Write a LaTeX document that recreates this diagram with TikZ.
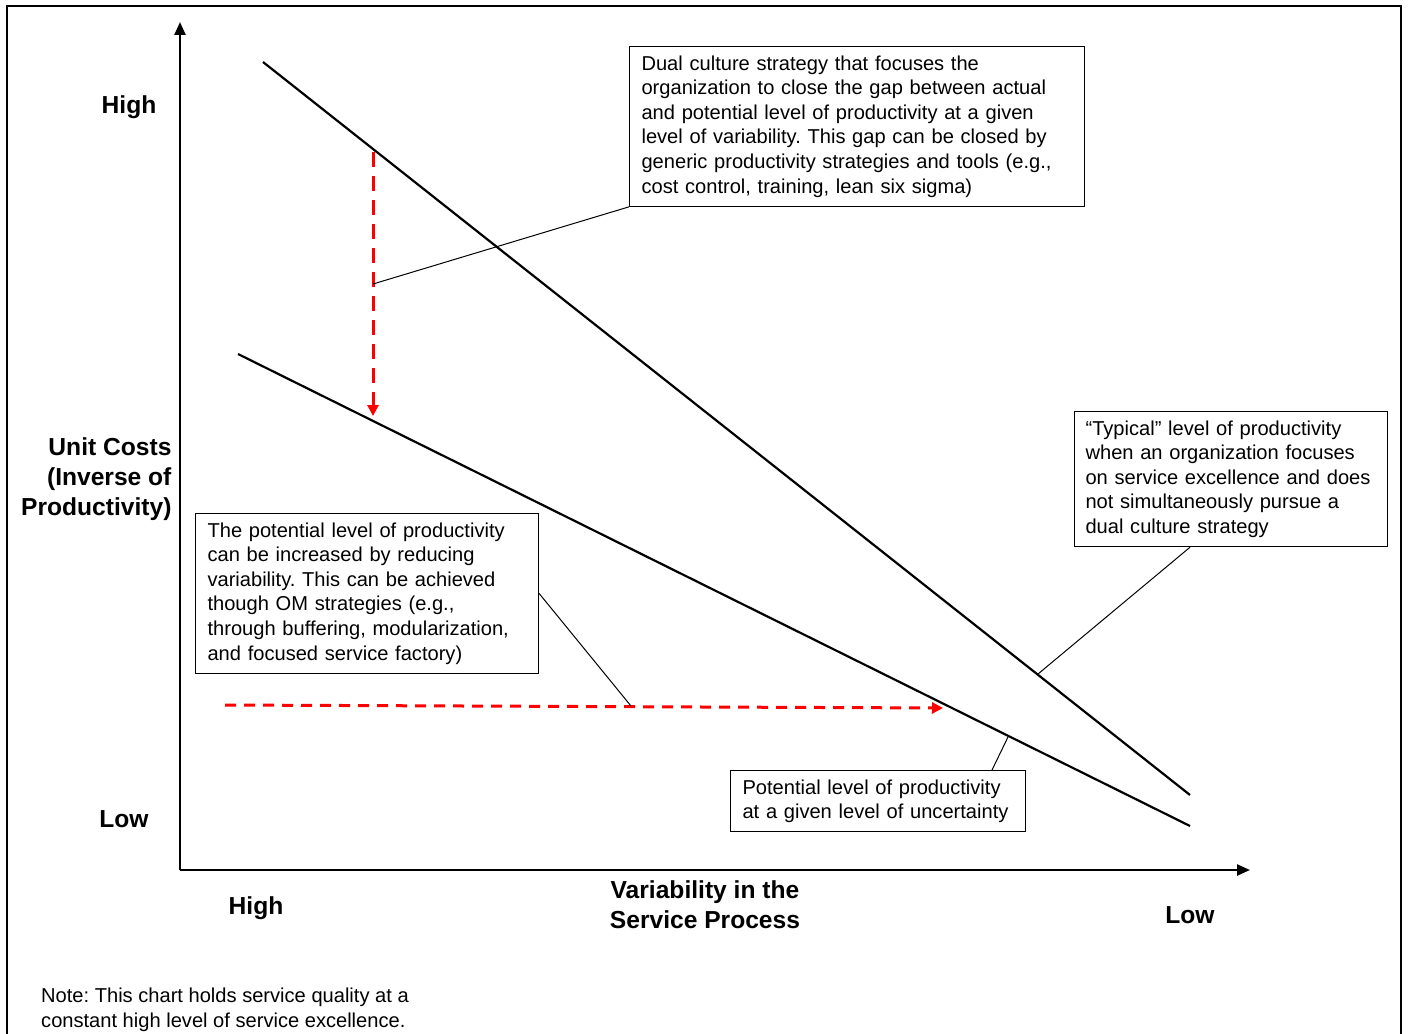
\documentclass[tikz,border=0pt]{standalone}
\usepackage{fontspec}
\setmainfont{Liberation Sans}
\usetikzlibrary{positioning}
\usetikzlibrary{calc}
\usetikzlibrary{arrows.meta}
\frenchspacing
\newcommand{\boxfont}{\fontsize{20.1}{24.6}\selectfont}
\newcommand{\axisfont}{\fontsize{24.6}{30}\selectfont\bfseries}

\begin{document}
\begin{tikzpicture}[x=1pt, y=-1pt,
                        axis/.style={line width=2.4pt, -{Triangle[length=13pt,width=11pt]}},
                        curve/.style={line width=2.2pt},
                        gap/.style={red, line width=3pt, dash pattern=on 13pt off 8pt,
                                    -{Triangle[length=11pt,width=11pt]}},
                        leader/.style={line width=1pt},
                        note/.style={draw, line width=1.1pt, align=left, anchor=north west,
                                     font=\boxfont, inner xsep=12pt, inner ysep=9pt},
                        label/.style={font=\axisfont, align=center}]
        \useasboundingbox (0,0) rectangle (1410,1033);
        \draw[line width=1.6pt] (7,6) rectangle (1401,1060);

        % axes
        \coordinate (o) at (180,870);
        \coordinate (ytop) at (180,22);
        \coordinate (xend) at (1250,870);
        \draw[axis] (o) -- (ytop);
        \draw[axis] (o) -- (xend);

        % productivity lines
        \coordinate (u1) at (263,62);
        \coordinate (u2) at (1190,795);
        \coordinate (l1) at (238,354);
        \coordinate (l2) at (1190,826);
        \draw[curve] (u1) -- (u2);
        \draw[curve] (l1) -- (l2);

        % gaps
        \coordinate (v1) at (373,152);
        \coordinate (v2) at (373,416);
        \coordinate (h1) at (225,705);
        \coordinate (h2) at (943,708);
        \draw[gap, dash pattern=on 15pt off 9pt] (v1) -- (v2);
        \draw[gap, dash pattern=on 11pt off 8pt] (h1) -- (h2);

        % axis labels
        \node[label] (yhigh) at (129,107) {High};
        \node[label] (ylow) at (124,819) {Low};
        \node[label, align=right, anchor=east] (yname) at (175,479) {Unit Costs\\(Inverse of\\Productivity)};
        \node[label] (xhigh) at (256,908) {High};
        \node[label] (xlow) at (1190,915) {Low};
        \node[label] (xname) at (705,905) {Variability in the\\Service Process};

        % boxes
        \node[note, text width=431pt] (dual) at (629,46)
            {Dual culture strategy that focuses the\\
             organization to close the gap between actual\\
             and potential level of productivity at a given\\
             level of variability. This gap can be closed by\\
             generic productivity strategies and tools (e.g.,\\
             cost control, training, lean six sigma)};
        \node[note, text width=291pt, inner xsep=11pt] (typical) at (1074,411)
            {``Typical'' level of productivity\\
             when an organization focuses\\
             on service excellence and does\\
             not simultaneously pursue a\\
             dual culture strategy};
        \node[note, text width=319pt] (reduce) at (195,513)
            {The potential level of productivity\\
             can be increased by reducing\\
             variability. This can be achieved\\
             though OM strategies (e.g.,\\
             through buffering, modularization,\\
             and focused service factory)};
        \node[note, text width=271pt] (potential) at (730,770)
            {Potential level of productivity\\
             at a given level of uncertainty};

        % leaders
        \coordinate (p1) at (373,284);
        \coordinate (p2) at (1038,674);
        \coordinate (p3) at (631,706);
        \coordinate (p4) at (1008,737);
        \draw[leader] (dual.south west) -- (p1);
        \draw[leader] ([xshift=116pt]typical.south west) -- (p2);
        \draw[leader] (reduce.east) -- (p3);
        \draw[leader] ([xshift=262pt]potential.north west) -- (p4);

        \node[font=\boxfont, align=left, anchor=north west, inner sep=0pt] (remark) at (41,988)
            {Note: This chart holds service quality at a\\
             constant high level of service excellence.};
    \end{tikzpicture}
\end{document}
